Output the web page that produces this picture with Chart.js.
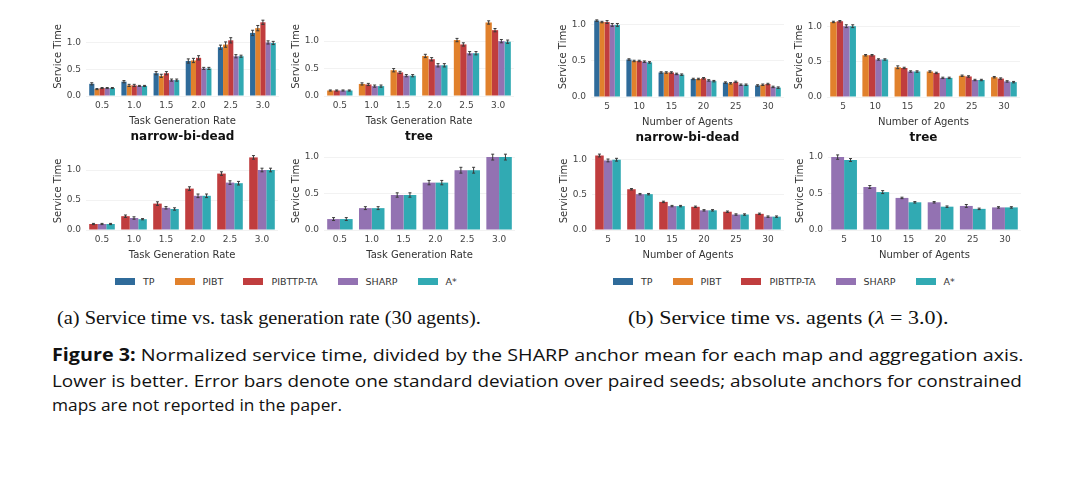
<!DOCTYPE html>
<html>
<head>
<meta charset="utf-8">
<script src="https://cdn.jsdelivr.net/npm/chart.js@4.4.1/dist/chart.umd.min.js"></script>
<style>
  body { margin: 0; background: #fff; width: 1080px; height: 498px; position: relative; overflow: hidden; font-family: 'DejaVu Sans'; }
  .panel { position: absolute; }
  .legend { position: absolute; top: 276px; display: flex; align-items: center; font-size: 9.5px; color: #333; height: 10px; }
  .legend .sw { display: inline-block; width: 20px; height: 7px; margin-right: 8px; }
  .legend .tx { margin-right: 20px; }
  .sub { position: absolute; top: 307px; font-family: 'Liberation Serif'; font-size: 19px; line-height: 22px; color: #111; white-space: nowrap; transform-origin: 0 0; }
  .cap { position: absolute; left: 52px; font-family: 'Open Sans'; font-size: 17px; line-height: 22px; color: #111; white-space: nowrap; transform-origin: 0 0; }
</style>
</head>
<body>

<div class="legend" style="left:115px" id="legA"></div>
<div class="legend" style="left:613px" id="legB"></div>

<div class="sub fit" style="left:57px" data-w="424">(a) Service time vs. task generation rate (30 agents).</div>
<div class="sub fit" style="left:628px" data-w="320">(b) Service time vs. agents (<i>λ</i> = 3.0).</div>

<div class="cap fit" style="top:344px" data-w="972"><b>Figure 3:</b> Normalized service time, divided by the SHARP anchor mean for each map and aggregation axis.</div>
<div class="cap fit" style="top:370px" data-w="970">Lower is better. Error bars denote one standard deviation over paired seeds; absolute anchors for constrained</div>
<div class="cap fit" style="top:394px" data-w="290">maps are not reported in the paper.</div>

<script>
// categories
var rateLabels = ['0.5', '1.0', '1.5', '2.0', '2.5', '3.0'];
var agentLabels = ['5', '10', '15', '20', '25', '30'];
var seriesNames = ['TP', 'PIBT', 'PIBTTP-TA', 'SHARP', 'A*'];
var seriesColors = ['#2f6b9a', '#e1812c', '#c03d3e', '#9372b2', '#31aab3'];

// (a) vs task generation rate -- rows follow the series listed for each panel
var rateNarrowSeries = ['TP', 'PIBT', 'PIBTTP-TA', 'SHARP', 'A*'];
var rateNarrow = [
    [0.23, 0.27, 0.43, 0.66, 0.92, 1.19],
    [0.13, 0.20, 0.38, 0.67, 0.97, 1.28],
    [0.15, 0.20, 0.43, 0.72, 1.05, 1.39],
    [0.15, 0.19, 0.30, 0.52, 0.75, 1.01],
    [0.15, 0.19, 0.30, 0.52, 0.75, 1.00]
];
var rateNarrowErr = [
    [0.02, 0.02, 0.03, 0.04, 0.04, 0.05],
    [0.01, 0.02, 0.03, 0.04, 0.05, 0.05],
    [0.01, 0.02, 0.03, 0.04, 0.05, 0.04],
    [0.01, 0.01, 0.02, 0.02, 0.03, 0.03],
    [0.01, 0.01, 0.02, 0.02, 0.02, 0.03]
];
var rateTreeSeries = ['PIBT', 'PIBTTP-TA', 'SHARP', 'A*'];
var rateTree = [
    [0.10, 0.22, 0.47, 0.73, 1.02, 1.34],
    [0.10, 0.21, 0.43, 0.67, 0.94, 1.20],
    [0.10, 0.18, 0.37, 0.56, 0.78, 1.00],
    [0.10, 0.18, 0.37, 0.56, 0.78, 0.99]
];
var rateTreeErr = [
    [0.01, 0.02, 0.03, 0.03, 0.03, 0.03],
    [0.01, 0.02, 0.02, 0.03, 0.03, 0.03],
    [0.01, 0.02, 0.02, 0.03, 0.03, 0.03],
    [0.01, 0.02, 0.02, 0.03, 0.03, 0.03]
];
var rateC3Series = ['PIBTTP-TA', 'SHARP', 'A*'];
var rateC3 = [
    [0.10, 0.23, 0.44, 0.69, 0.94, 1.21],
    [0.10, 0.20, 0.37, 0.57, 0.79, 1.00],
    [0.10, 0.18, 0.35, 0.57, 0.78, 1.00]
];
var rateC3Err = [
    [0.01, 0.02, 0.03, 0.03, 0.03, 0.03],
    [0.01, 0.02, 0.02, 0.03, 0.03, 0.03],
    [0.01, 0.01, 0.02, 0.03, 0.03, 0.03]
];
var rateC4Series = ['SHARP', 'A*'];
var rateC4 = [
    [0.15, 0.30, 0.48, 0.65, 0.82, 1.00],
    [0.15, 0.30, 0.48, 0.65, 0.82, 1.00]
];
var rateC4Err = [
    [0.02, 0.02, 0.03, 0.03, 0.04, 0.04],
    [0.02, 0.02, 0.03, 0.03, 0.04, 0.04]
];

// (b) vs number of agents
var agentNarrowSeries = ['TP', 'PIBT', 'PIBTTP-TA', 'SHARP', 'A*'];
var agentNarrow = [
    [1.06, 0.52, 0.34, 0.25, 0.20, 0.16],
    [1.04, 0.50, 0.34, 0.25, 0.19, 0.17],
    [1.04, 0.50, 0.34, 0.26, 0.21, 0.18],
    [1.00, 0.49, 0.32, 0.23, 0.17, 0.14],
    [1.00, 0.48, 0.31, 0.22, 0.17, 0.13]
];
var agentNarrowErr = [
    [0.01, 0.01, 0.01, 0.01, 0.01, 0.01],
    [0.01, 0.01, 0.01, 0.01, 0.01, 0.01],
    [0.02, 0.01, 0.01, 0.01, 0.01, 0.01],
    [0.02, 0.01, 0.01, 0.01, 0.01, 0.01],
    [0.02, 0.01, 0.01, 0.01, 0.01, 0.01]
];
var agentTreeSeries = ['PIBT', 'PIBTTP-TA', 'SHARP', 'A*'];
var agentTree = [
    [1.06, 0.59, 0.42, 0.36, 0.30, 0.28],
    [1.07, 0.59, 0.41, 0.34, 0.29, 0.26],
    [1.00, 0.53, 0.36, 0.27, 0.24, 0.22],
    [1.00, 0.53, 0.36, 0.27, 0.24, 0.21]
];
var agentTreeErr = [
    [0.01, 0.01, 0.02, 0.01, 0.01, 0.01],
    [0.01, 0.01, 0.01, 0.01, 0.01, 0.01],
    [0.02, 0.01, 0.01, 0.01, 0.01, 0.01],
    [0.02, 0.01, 0.01, 0.01, 0.01, 0.01]
];
var agentC3Series = ['PIBTTP-TA', 'SHARP', 'A*'];
var agentC3 = [
    [1.06, 0.58, 0.40, 0.33, 0.26, 0.23],
    [0.99, 0.51, 0.34, 0.28, 0.22, 0.19],
    [1.00, 0.51, 0.34, 0.28, 0.22, 0.19]
];
var agentC3Err = [
    [0.02, 0.01, 0.01, 0.01, 0.01, 0.01],
    [0.02, 0.01, 0.01, 0.01, 0.01, 0.01],
    [0.02, 0.01, 0.01, 0.01, 0.01, 0.01]
];
var agentC4Series = ['SHARP', 'A*'];
var agentC4 = [
    [1.00, 0.59, 0.44, 0.38, 0.33, 0.31],
    [0.96, 0.52, 0.38, 0.32, 0.29, 0.31]
];
var agentC4Err = [
    [0.03, 0.02, 0.01, 0.01, 0.02, 0.01],
    [0.02, 0.02, 0.01, 0.01, 0.01, 0.01]
];

// draws the sd whiskers on top of each bar
var errorBars = {
    id: 'errorBars',
    afterDatasetsDraw: function(chart) {
        var ctx = chart.ctx;
        var y = chart.scales.y;
        ctx.save();
        ctx.strokeStyle = '#3a3a3a';
        ctx.lineWidth = 1;
        chart.data.datasets.forEach(function(ds, i) {
            var meta = chart.getDatasetMeta(i);
            meta.data.forEach(function(bar, j) {
                var v = ds.data[j], e = ds.err[j];
                var top = y.getPixelForValue(v + e);
                var bot = y.getPixelForValue(v - e);
                ctx.beginPath();
                ctx.moveTo(bar.x, top); ctx.lineTo(bar.x, bot);
                ctx.moveTo(bar.x - 1.5, top); ctx.lineTo(bar.x + 1.5, top);
                ctx.moveTo(bar.x - 1.5, bot); ctx.lineTo(bar.x + 1.5, bot);
                ctx.stroke();
            });
        });
        ctx.restore();
    }
};

Chart.defaults.font.family = 'DejaVu Sans';

function makePanel(p) {
    var canvasTop = p.top < 100 ? 0 : 140;
    var h = p.bottom - canvasTop + 31 + (p.title ? 18 : 0);
    var div = document.createElement('div');
    div.className = 'panel';
    div.style.left = (p.left - 34) + 'px';
    div.style.top = canvasTop + 'px';
    div.style.width = (p.right - p.left + 34) + 'px';
    div.style.height = h + 'px';
    var cv = document.createElement('canvas');
    div.appendChild(cv);
    document.body.appendChild(div);

    var datasets = p.series.map(function(name, i) {
        var c = seriesColors[seriesNames.indexOf(name)];
        return {
            label: name,
            data: p.values[i],
            err: p.errors[i],
            backgroundColor: c,
            borderWidth: 0,
            categoryPercentage: 0.8,
            barPercentage: 1.0
        };
    });

    new Chart(cv, {
        type: 'bar',
        data: { labels: p.labels, datasets: datasets },
        options: {
            responsive: true,
            maintainAspectRatio: false,
            animation: false,
            layout: { padding: { top: p.top - canvasTop, left: 0, right: 0, bottom: 0 } },
            plugins: {
                legend: { display: false },
                tooltip: { enabled: false },
                title: {
                    display: !!p.title,
                    text: p.title,
                    position: 'bottom',
                    fullSize: false,
                    padding: { top: 3, bottom: 0.6 },
                    color: '#111',
                    font: { size: 12, weight: 'bold' }
                }
            },
            scales: {
                x: {
                    offset: true,
                    grid: { display: false, drawTicks: false },
                    border: { display: false },
                    ticks: { padding: 4, color: '#444', font: { size: 9 }, maxRotation: 0, autoSkip: false },
                    title: { display: true, text: p.xTitle, color: '#333', font: { size: 10 }, padding: 0 },
                    afterFit: function(s) { s.height = 31; }
                },
                y: {
                    min: 0,
                    max: p.ymax,
                    grid: { color: '#f2f2f2', drawTicks: false },
                    border: { display: false },
                    ticks: {
                        stepSize: 0.5, includeBounds: false, padding: 5, color: '#444', font: { size: 9 },
                        callback: function(v) { return v.toFixed(1); }
                    },
                    title: { display: true, text: 'Service Time', color: '#333', font: { size: 10 }, padding: 0 },
                    afterBuildTicks: function(s) {
                        s.ticks = s.ticks.filter(function(t) {
                            return t.value <= p.ymax && Math.abs(t.value * 2 - Math.round(t.value * 2)) < 1e-6;
                        });
                    },
                    afterFit: function(s) { s.width = 34; }
                }
            }
        },
        plugins: [errorBars]
    });
}

var rateTitle = 'Task Generation Rate';
var agentTitle = 'Number of Agents';

makePanel({ left: 86, right: 279, top: 17, bottom: 96, ymax: 1.49, title: 'narrow-bi-dead', xTitle: rateTitle, labels: rateLabels, series: rateNarrowSeries, values: rateNarrow, errors: rateNarrowErr });
makePanel({ left: 324, right: 514, top: 17, bottom: 96, ymax: 1.44, title: 'tree', xTitle: rateTitle, labels: rateLabels, series: rateTreeSeries, values: rateTree, errors: rateTreeErr });
makePanel({ left: 86, right: 278, top: 152, bottom: 230, ymax: 1.3, xTitle: rateTitle, labels: rateLabels, series: rateC3Series, values: rateC3, errors: rateC3Err });
makePanel({ left: 324, right: 515, top: 152, bottom: 230, ymax: 1.07, xTitle: rateTitle, labels: rateLabels, series: rateC4Series, values: rateC4, errors: rateC4Err });
makePanel({ left: 591, right: 784, top: 17, bottom: 97, ymax: 1.11, title: 'narrow-bi-dead', xTitle: agentTitle, labels: agentLabels, series: agentNarrowSeries, values: agentNarrow, errors: agentNarrowErr });
makePanel({ left: 827, right: 1020, top: 17, bottom: 97, ymax: 1.13, title: 'tree', xTitle: agentTitle, labels: agentLabels, series: agentTreeSeries, values: agentTree, errors: agentTreeErr });
makePanel({ left: 592, right: 784, top: 152, bottom: 230, ymax: 1.11, xTitle: agentTitle, labels: agentLabels, series: agentC3Series, values: agentC3, errors: agentC3Err });
makePanel({ left: 828, right: 1021, top: 152, bottom: 230, ymax: 1.07, xTitle: agentTitle, labels: agentLabels, series: agentC4Series, values: agentC4, errors: agentC4Err });

// shared legends under each half
['legA', 'legB'].forEach(function(id) {
    var el = document.getElementById(id);
    seriesNames.forEach(function(name, i) {
        var sw = document.createElement('span');
        sw.className = 'sw';
        sw.style.background = seriesColors[i];
        var tx = document.createElement('span');
        tx.className = 'tx';
        tx.textContent = name;
        el.appendChild(sw);
        el.appendChild(tx);
    });
});

// squeeze caption lines to the widths they have in the paper
document.querySelectorAll('.fit').forEach(function(el) {
    var w = parseFloat(el.getAttribute('data-w'));
    var k = w / el.offsetWidth;
    el.style.transform = 'scaleX(' + k.toFixed(3) + ')';
});
</script>
</body>
</html>
